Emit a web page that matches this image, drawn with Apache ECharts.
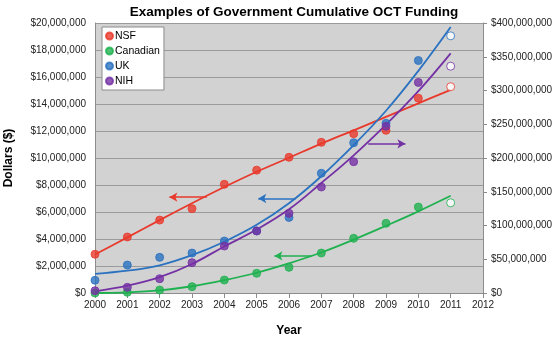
<!DOCTYPE html>
<html>
<head>
<meta charset="utf-8">
<script src="https://cdn.jsdelivr.net/npm/echarts@6/dist/echarts.min.js"></script>
<style>
  html, body { margin: 0; padding: 0; background: #fff; }
  #chart { width: 553px; height: 337px; }
</style>
</head>
<body>
<div id="chart"></div>
<script>
// Cumulative funding, in millions of dollars, by year
const years = [2000, 2001, 2002, 2003, 2004, 2005, 2006, 2007, 2008, 2009, 2010, 2011];
const nsfM      = [2.87, 4.15, 5.4, 6.25, 8.05, 9.1, 10.05, 11.16, 11.8, 12.05, 14.43, 15.28];
const canadianM = [0.0, 0.05, 0.22, 0.47, 0.96, 1.46, 1.9, 2.96, 4.05, 5.16, 6.37, 6.68];
const ukM       = [0.94, 2.07, 2.64, 2.96, 3.85, 4.6, 5.6, 8.87, 11.13, 12.57, 17.22, 19.05];
const nihM      = [3.4, 8.4, 21.2, 44.9, 69.6, 91.9, 118, 157, 194.5, 247, 312, 336]; // right axis

// Fitted trend curves (millions), one value per year
const nsfTrendM      = [2.85, 4.12, 5.4, 6.65, 7.85, 8.98, 10.02, 11.07, 12.05, 13.05, 14.05, 15.05];
const canadianTrendM = [0.0, 0.05, 0.2, 0.5, 0.95, 1.5, 2.2, 3.0, 3.95, 4.98, 6.05, 7.2];
const ukTrendM       = [1.42, 1.65, 2.05, 2.8, 3.8, 5.05, 6.65, 8.65, 10.95, 13.5, 16.45, 19.7];
const nihTrendM      = [2.5, 11, 23.5, 43, 69, 94, 124, 163, 204, 249.5, 299, 355];

// Last year shown as an open (estimated) marker
const estimatedYear = 2011;

// Axis ticks
const leftTicksM = { min: 0, max: 20, step: 2 };
const rightTicksM = { min: 0, max: 400, step: 50 };
const xTicks = { min: 2000, max: 2012, step: 1 };

// Arrows pointing each series to its axis: [[year, millions], [year, millions]]
const nsfArrow      = [[2003.46, 7.1], [2002.3, 7.1]];
const ukArrow       = [[2006.2, 7.0], [2005.05, 7.0]];
const canadianArrow = [[2006.7, 2.75], [2005.55, 2.75]];
const nihArrow      = [[2008.45, 221], [2009.6, 221]];

const colors = { NSF: '#e8392c', Canadian: '#1fb150', UK: '#2a72c0', NIH: '#7431a4' };
const M = 1e6;
const font = 'Liberation Sans';

function dollars(v) {
  return '$' + Math.round(v).toString().replace(/\B(?=(\d{3})+(?!\d))/g, ',');
}

function points(vals) {
  return years.map((y, i) => {
    const item = { value: [y, vals[i] * M] };
    if (y === estimatedYear) item.itemStyle = { color: '#ffffff' };
    return item;
  });
}

function trend(vals) {
  return years.map((y, i) => [y, vals[i] * M]);
}

function arrow(seg, color) {
  return {
    silent: true,
    symbol: ['none', 'arrow'],
    symbolSize: [7, 8],
    label: { show: false },
    lineStyle: { color: color, width: 1.6, type: 'solid' },
    emphasis: { disabled: true },
    data: [[{ coord: [seg[0][0], seg[0][1] * M] }, { coord: [seg[1][0], seg[1][1] * M] }]]
  };
}

function trendSeries(name, vals, color, axis) {
  return {
    name: name + ' trend', type: 'line', yAxisIndex: axis,
    data: trend(vals), smooth: 0.4, showSymbol: false, symbol: 'none',
    lineStyle: { color: color, width: 1.8 }, z: 2, silent: true
  };
}

function pointSeries(name, vals, axis, arrowSeg) {
  const c = colors[name];
  return {
    name: name, type: 'scatter', yAxisIndex: axis,
    data: points(vals), symbolSize: 8,
    itemStyle: { color: c, borderColor: c, borderWidth: 1 },
    z: 3,
    markLine: arrow(arrowSeg, c)
  };
}

const chart = echarts.init(document.getElementById('chart'), null, { renderer: 'canvas' });
chart.setOption({
  animation: false,
  backgroundColor: '#ffffff',
  title: {
    text: 'Examples of Government Cumulative OCT Funding',
    left: 289, top: 0, textAlign: 'center',
    textStyle: { fontFamily: font, fontWeight: 'bold', fontSize: 13.5, color: '#000' }
  },
  legend: {
    orient: 'vertical', left: 102, top: 27,
    data: ['NSF', 'Canadian', 'UK', 'NIH'],
    icon: 'circle', itemWidth: 7, itemHeight: 7, itemGap: 3,
    backgroundColor: '#ffffff', borderColor: '#8c8c8c', borderWidth: 1,
    borderRadius: 0, padding: [3, 4, 3, 3],
    textStyle: { fontFamily: font, fontSize: 10.5, color: '#000', lineHeight: 12, padding: [0, 0, 0, -3] }
  },
  grid: {
    left: 95, right: 70, top: 23, bottom: 44,
    outerBoundsMode: 'none', containLabel: false,
    show: true, backgroundColor: '#d2d2d2', borderWidth: 0
  },
  xAxis: {
    type: 'value', min: xTicks.min, max: xTicks.max, interval: xTicks.step,
    name: 'Year', nameLocation: 'middle', nameGap: 32,
    nameTextStyle: { fontFamily: font, fontWeight: 'bold', fontSize: 12, color: '#000' },
    axisLine: { show: true, lineStyle: { color: '#8c8c8c', width: 1 } },
    axisTick: { show: true, length: 5, lineStyle: { color: '#8c8c8c' } },
    axisLabel: { fontFamily: font, fontSize: 10, color: '#222', margin: 7, formatter: v => String(v) },
    splitLine: { show: false }
  },
  yAxis: [
    {
      type: 'value', position: 'left',
      min: leftTicksM.min * M, max: leftTicksM.max * M, interval: leftTicksM.step * M,
      name: 'Dollars ($)', nameLocation: 'middle', nameGap: 80, nameRotate: 90,
      nameTextStyle: { fontFamily: font, fontWeight: 'bold', fontSize: 12, color: '#000' },
      axisLine: { show: true, lineStyle: { color: '#8c8c8c', width: 1 } },
      axisTick: { show: false },
      axisLabel: { fontFamily: font, fontSize: 10, color: '#222', margin: 9, formatter: dollars },
      splitLine: { show: true, lineStyle: { color: '#9a9a9a', width: 1 } }
    },
    {
      type: 'value', position: 'right',
      min: rightTicksM.min * M, max: rightTicksM.max * M, interval: rightTicksM.step * M,
      axisLine: { show: true, lineStyle: { color: '#8c8c8c', width: 1 } },
      axisTick: { show: true, length: 4, lineStyle: { color: '#8c8c8c' } },
      axisLabel: { fontFamily: font, fontSize: 10, color: '#222', margin: 8, formatter: dollars },
      splitLine: { show: false }
    }
  ],
  series: [
    trendSeries('NSF', nsfTrendM, colors.NSF, 0),
    trendSeries('Canadian', canadianTrendM, colors.Canadian, 0),
    trendSeries('UK', ukTrendM, colors.UK, 0),
    trendSeries('NIH', nihTrendM, colors.NIH, 1),
    pointSeries('NSF', nsfM, 0, nsfArrow),
    pointSeries('Canadian', canadianM, 0, canadianArrow),
    pointSeries('UK', ukM, 0, ukArrow),
    pointSeries('NIH', nihM, 1, nihArrow)
  ]
});
</script>
</body>
</html>
